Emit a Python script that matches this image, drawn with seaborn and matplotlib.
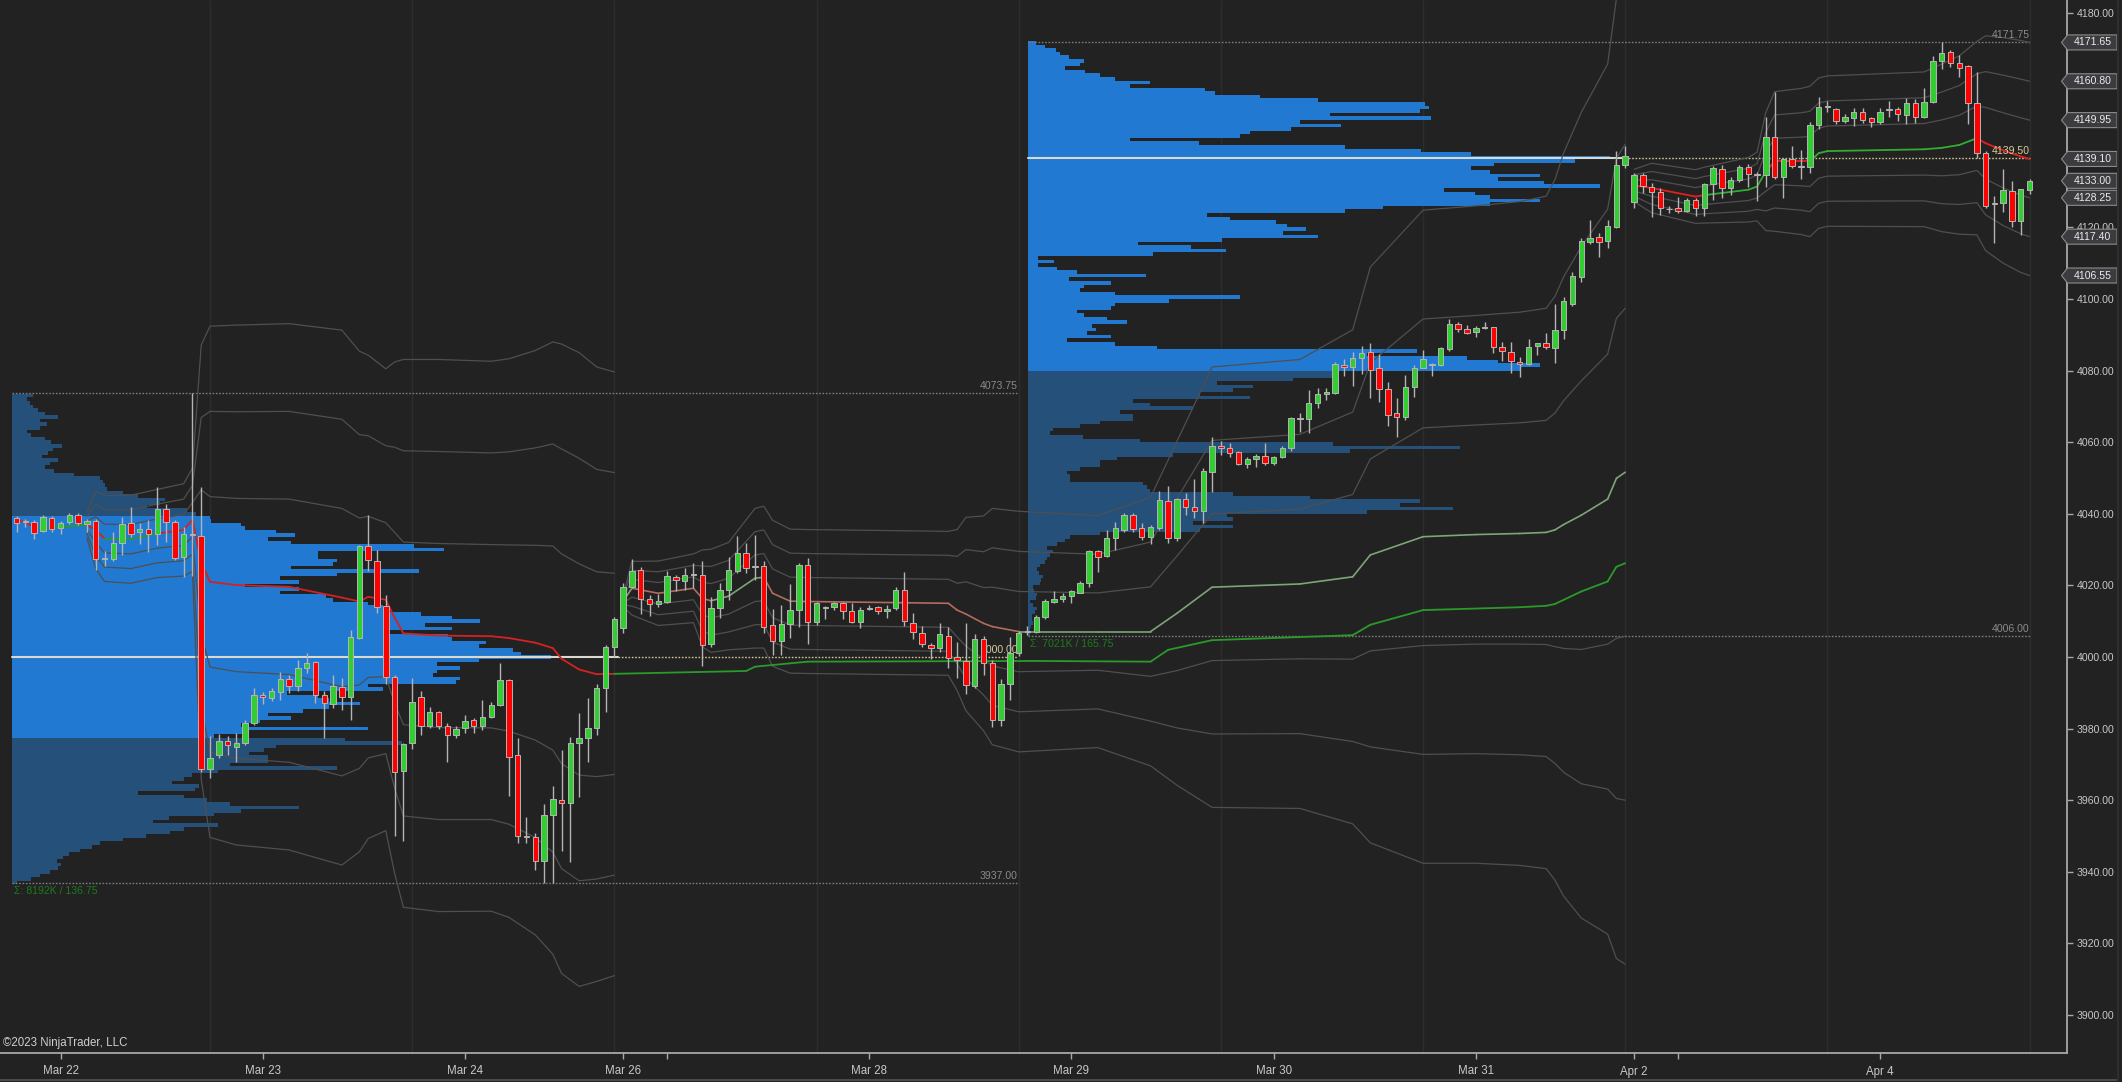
import numpy as np
import matplotlib
matplotlib.use("Agg")
import matplotlib.pyplot as plt
import seaborn as sns
from matplotlib.patches import Polygon
from matplotlib.lines import Line2D
from matplotlib.transforms import blended_transform_factory

# ---------------- candles (hourly bars, x = bar number) ----------------
opens = [
    4038.9, 4037.9, 4037.6, 4035.3, 4038.8, 4036.0, 4037.6, 4039.7, 4037.2, 4038.1,
    4027.3, 4027.5, 4031.8, 4037.4, 4034.8, 4035.8, 4034.4, 4041.3, 4037.6, 4027.9,
    4034.0, 4033.9, 3968.8, 3972.7, 3976.6, 3975.0, 3976.1, 3981.7, 3989.4, 3988.5,
    3990.2, 3993.9, 3991.9, 3996.9, 3998.5, 3989.4, 3986.8, 3991.6, 3988.8, 4005.2,
    4031.0, 4026.9, 4014.3, 3994.4, 3968.2, 3975.9, 3988.8, 3980.8, 3984.6, 3980.8,
    3978.2, 3980.1, 3982.3, 3980.8, 3983.2, 3986.6, 3993.6, 3972.7, 3950.0, 3949.7,
    3943.1, 3955.9, 3960.1, 3959.3, 3975.9, 3977.5, 3980.1, 3991.3, 4002.7, 4008.0,
    4019.5, 4024.3, 4016.3, 4014.7, 4015.5, 4022.3, 4021.2, 4022.8, 4022.9, 4003.6,
    4013.6, 4018.7, 4024.0, 4029.1, 4025.3, 4025.4, 4008.8, 4004.5, 4009.2, 4013.1,
    4025.7, 4009.9, 4013.9, 4013.9, 4015.0, 4012.9, 4009.9, 4013.6, 4013.9, 4012.9,
    4013.6, 4018.7, 4009.6, 4006.6, 4003.3, 4002.4, 4006.0, 4000.1, 3999.0, 3991.9,
    4004.9, 3998.4, 3982.4, 3992.4, 4001.0, 4007.2, 4007.1, 4011.3, 4015.5, 4016.1,
    4016.9, 4018.0, 4020.8, 4029.7, 4028.2, 4033.1, 4035.5, 4039.7, 4036.0, 4033.6,
    4036.0, 4043.6, 4033.1, 4044.2, 4042.0, 4040.9, 4051.8, 4058.9, 4058.3, 4057.2,
    4053.9, 4055.3, 4056.1, 4054.3, 4056.0, 4058.3, 4066.7, 4066.5, 4070.9, 4073.5,
    4073.6, 4081.5, 4080.9, 4083.4, 4085.3, 4080.6, 4074.9, 4068.1, 4067.1, 4075.3,
    4080.8, 4081.7, 4081.6, 4085.9, 4093.0, 4091.6, 4090.9, 4092.0, 4092.1, 4086.5,
    4085.3, 4082.5, 4081.8, 4086.9, 4087.6, 4086.2, 4091.3, 4098.6, 4106.2, 4116.0,
    4117.2, 4116.3, 4120.0, 4137.4, 4127.2, 4134.6, 4131.2, 4130.0, 4125.2, 4125.3,
    4124.7, 4127.7, 4125.3, 4132.1, 4136.2, 4130.9, 4133.2, 4136.8, 4134.9, 4134.5,
    4145.3, 4134.2, 4139.0, 4137.2, 4136.8, 4148.6, 4153.8, 4153.0, 4149.7, 4150.5,
    4152.3, 4150.5, 4149.3, 4152.9, 4153.0, 4151.4, 4154.8, 4150.7, 4155.1, 4166.6,
    4169.1, 4166.0, 4165.1, 4154.8, 4140.9, 4126.8, 4126.7, 4130.1, 4121.9, 4130.4,
]
highs = [
    4039.4, 4038.5, 4038.3, 4039.7, 4039.4, 4038.1, 4040.3, 4040.2, 4038.5, 4038.5,
    4029.5, 4035.0, 4039.2, 4041.8, 4037.4, 4038.3, 4047.6, 4042.8, 4038.3, 4036.4,
    4073.75, 4047.6, 3977.8, 3978.4, 3978.0, 3978.7, 3982.4, 3991.3, 3990.1, 3991.3,
    3995.9, 3995.0, 3999.2, 4001.1, 3998.8, 3990.6, 3995.0, 3994.1, 4007.6, 4031.3,
    4039.7, 4029.9, 4017.3, 3995.0, 3976.1, 3994.1, 3990.6, 3986.0, 3984.8, 3981.5,
    3980.6, 3983.8, 3982.9, 3988.0, 3987.3, 3998.3, 3993.8, 3977.3, 3955.4, 3950.8,
    3959.0, 3964.0, 3973.9, 3977.6, 3984.5, 3988.5, 3992.6, 4003.3, 4011.1, 4020.6,
    4027.3, 4025.0, 4017.3, 4017.6, 4024.1, 4022.9, 4024.9, 4026.3, 4026.8, 4016.7,
    4020.6, 4027.8, 4033.8, 4031.8, 4034.1, 4026.9, 4013.3, 4014.5, 4020.4, 4026.3,
    4027.6, 4015.5, 4014.3, 4015.5, 4015.5, 4015.0, 4014.1, 4014.5, 4014.3, 4014.5,
    4019.5, 4023.8, 4012.2, 4008.7, 4004.0, 4009.4, 4008.5, 4004.3, 4009.4, 4006.4,
    4005.9, 3999.2, 3993.8, 4005.7, 4007.4, 4008.7, 4011.7, 4016.1, 4018.3, 4018.0,
    4018.7, 4021.1, 4029.9, 4029.9, 4035.5, 4037.8, 4040.3, 4040.1, 4037.5, 4036.9,
    4046.5, 4047.8, 4044.3, 4045.9, 4049.6, 4052.7, 4061.4, 4060.4, 4059.7, 4057.4,
    4056.0, 4056.7, 4059.9, 4056.1, 4058.8, 4067.0, 4068.1, 4074.6, 4075.0, 4075.0,
    4082.5, 4083.1, 4085.3, 4086.9, 4087.8, 4084.6, 4076.9, 4072.3, 4078.8, 4081.6,
    4085.7, 4082.2, 4086.7, 4094.3, 4093.7, 4092.7, 4092.5, 4093.7, 4092.3, 4088.1,
    4088.1, 4083.9, 4088.7, 4087.8, 4090.4, 4098.6, 4100.5, 4107.6, 4116.9, 4122.1,
    4118.3, 4122.1, 4141.4, 4142.7, 4135.1, 4135.1, 4132.3, 4130.9, 4126.0, 4128.4,
    4128.1, 4128.1, 4132.5, 4137.2, 4137.4, 4134.2, 4137.4, 4137.7, 4135.6, 4150.9,
    4157.9, 4139.3, 4142.7, 4141.6, 4149.5, 4156.5, 4155.4, 4153.3, 4151.7, 4153.3,
    4153.3, 4150.9, 4153.3, 4155.4, 4153.5, 4156.0, 4155.8, 4158.8, 4167.9, 4171.75,
    4169.5, 4168.2, 4165.4, 4163.5, 4141.2, 4128.8, 4136.2, 4133.0, 4130.8, 4133.6,
]
lows = [
    4035.0, 4036.4, 4032.9, 4034.8, 4035.0, 4034.4, 4037.2, 4036.9, 4035.0, 4024.3,
    4025.5, 4026.7, 4028.5, 4033.6, 4031.6, 4029.2, 4031.3, 4032.2, 4027.1, 4022.3,
    4022.5, 3968.0, 3966.1, 3971.7, 3972.7, 3970.8, 3975.5, 3981.0, 3986.9, 3987.6,
    3988.0, 3989.9, 3990.4, 3995.5, 3987.1, 3977.3, 3985.7, 3985.2, 3982.4, 4005.0,
    4024.1, 4012.2, 3992.5, 3950.0, 3948.5, 3974.2, 3978.2, 3980.1, 3979.8, 3970.8,
    3977.3, 3978.7, 3978.9, 3979.6, 3982.9, 3986.2, 3961.2, 3948.0, 3948.0, 3940.4,
    3937.0, 3937.0, 3945.9, 3942.8, 3961.0, 3970.8, 3978.2, 3984.7, 4000.1, 4006.6,
    4019.2, 4011.9, 4011.4, 4013.9, 4015.0, 4018.5, 4018.7, 4019.2, 3997.5, 4002.9,
    4010.8, 4015.9, 4023.4, 4023.6, 4021.5, 4006.8, 4000.6, 4000.6, 4005.2, 4008.5,
    4003.6, 4008.9, 4010.5, 4013.1, 4010.5, 4009.6, 4008.0, 4013.1, 4011.9, 4010.8,
    4013.1, 4008.7, 4004.9, 4002.7, 3999.4, 4001.5, 3996.8, 3994.0, 3989.8, 3991.3,
    3994.9, 3980.5, 3980.8, 3988.0, 4000.4, 4006.1, 4006.6, 4010.5, 4015.0, 4015.5,
    4015.0, 4017.8, 4019.6, 4023.8, 4028.0, 4029.9, 4035.0, 4035.0, 4032.7, 4031.6,
    4035.5, 4031.9, 4032.5, 4039.7, 4038.7, 4037.5, 4046.2, 4056.4, 4055.8, 4053.6,
    4052.7, 4053.2, 4053.6, 4053.6, 4055.5, 4057.4, 4062.9, 4062.7, 4069.5, 4071.8,
    4073.5, 4078.5, 4075.7, 4079.0, 4072.3, 4071.3, 4064.5, 4061.4, 4066.2, 4072.7,
    4080.6, 4078.5, 4081.3, 4085.6, 4090.9, 4090.1, 4089.5, 4091.5, 4085.0, 4082.8,
    4079.4, 4078.3, 4081.5, 4084.4, 4085.9, 4082.0, 4088.7, 4097.9, 4104.8, 4115.4,
    4111.8, 4114.2, 4119.7, 4136.5, 4125.5, 4129.5, 4123.0, 4123.5, 4123.9, 4123.9,
    4124.4, 4123.2, 4123.2, 4127.7, 4128.1, 4129.0, 4132.8, 4131.4, 4127.5, 4131.4,
    4133.4, 4128.1, 4136.5, 4133.4, 4135.1, 4147.4, 4152.3, 4148.9, 4149.1, 4148.3,
    4149.1, 4147.9, 4148.9, 4150.9, 4149.8, 4148.9, 4149.1, 4150.5, 4154.8, 4164.2,
    4164.9, 4161.9, 4148.9, 4139.3, 4125.3, 4115.5, 4124.4, 4120.2, 4117.8, 4129.2,
]
closes = [
    4037.4, 4037.7, 4034.6, 4039.2, 4035.7, 4037.4, 4039.7, 4037.4, 4037.9, 4027.3,
    4027.4, 4031.8, 4037.2, 4034.4, 4035.8, 4034.4, 4041.4, 4037.8, 4027.6, 4034.4,
    4034.3, 3968.7, 3971.7, 3976.6, 3975.5, 3976.1, 3981.7, 3989.4, 3988.8, 3990.4,
    3993.9, 3991.9, 3996.9, 3998.3, 3989.4, 3987.1, 3991.9, 3988.8, 4005.5, 4031.0,
    4027.1, 4014.1, 3994.4, 3968.0, 3975.6, 3987.4, 3980.8, 3984.6, 3980.8, 3978.2,
    3979.9, 3982.0, 3980.8, 3983.2, 3986.6, 3993.6, 3972.2, 3950.0, 3949.8, 3943.1,
    3955.9, 3960.3, 3959.3, 3975.9, 3977.5, 3980.1, 3991.3, 4002.7, 4010.6, 4019.5,
    4024.0, 4016.3, 4014.8, 4015.6, 4022.7, 4021.5, 4022.9, 4023.0, 4003.3, 4013.6,
    4018.7, 4024.3, 4029.1, 4024.9, 4025.1, 4008.5, 4004.5, 4009.1, 4013.1, 4025.7,
    4009.9, 4015.0, 4013.7, 4015.0, 4012.9, 4009.9, 4013.1, 4013.4, 4012.9, 4013.5,
    4018.7, 4010.0, 4007.0, 4003.6, 4002.4, 4006.4, 3999.6, 3999.2, 3992.2, 4004.9,
    3998.2, 3982.4, 3992.4, 4001.2, 4006.6, 4007.0, 4011.3, 4015.6, 4016.1, 4017.0,
    4018.3, 4020.8, 4029.7, 4028.0, 4033.1, 4036.0, 4039.7, 4035.7, 4033.4, 4036.2,
    4043.9, 4033.1, 4044.2, 4041.8, 4040.9, 4052.0, 4058.9, 4058.3, 4057.1, 4053.9,
    4055.3, 4056.1, 4054.3, 4056.0, 4058.3, 4066.7, 4066.6, 4071.0, 4073.5, 4073.9,
    4081.8, 4080.9, 4083.4, 4085.0, 4080.2, 4074.8, 4067.6, 4067.1, 4075.3, 4080.8,
    4083.1, 4081.5, 4086.2, 4093.0, 4091.5, 4090.4, 4091.8, 4092.1, 4086.7, 4085.6,
    4082.8, 4081.8, 4086.5, 4087.6, 4086.5, 4091.3, 4099.3, 4106.4, 4116.2, 4117.0,
    4116.0, 4120.4, 4137.4, 4139.8, 4134.6, 4131.6, 4130.0, 4125.3, 4125.0, 4124.7,
    4127.7, 4125.3, 4132.1, 4136.5, 4130.9, 4133.2, 4136.8, 4134.9, 4134.5, 4145.3,
    4134.2, 4139.0, 4137.1, 4136.8, 4148.6, 4153.7, 4153.6, 4149.7, 4150.7, 4152.3,
    4150.0, 4149.5, 4152.3, 4152.7, 4151.7, 4154.8, 4150.7, 4155.1, 4166.6, 4168.6,
    4166.0, 4164.4, 4154.7, 4140.9, 4126.1, 4126.6, 4130.4, 4121.9, 4130.6, 4133.0,
]

# ---------------- time axis ----------------
tick_bars = [5, 28, 51, 69, 74, 97, 120, 143, 166, 184, 189, 212]
tick_labels = ["Mar 22", "Mar 23", "Mar 24", "Mar 26", "", "Mar 28",
               "Mar 29", "Mar 30", "Mar 31", "Apr 2", "", "Apr 4"]
grid_bars = [22, 45, 68, 91, 114, 137, 160, 183, 206, 229]

# ---------------- volume profiles ----------------
prof1_levels = list(range(3937, 4074))
prof1_vol = [
    5, 19, 28, 38, 46, 49, 45, 51, 57, 68,
    80, 88, 111, 134, 158, 172, 206, 141, 157, 202,
    229, 287, 218, 195, 172, 126, 183, 187, 160, 172,
    180, 206, 325, 218, 256, 256, 237, 252, 264, 390,
    333, 202, 233, 356, 229, 248, 279, 256, 291, 317,
    348, 317, 306, 275, 371, 356, 444, 448, 421, 425,
    448, 425, 467, 539, 509, 501, 467, 474, 440, 436,
    371, 440, 413, 468, 440, 409, 375, 371, 356, 321,
    314, 268, 287, 233, 287, 268, 325, 407, 279, 321,
    325, 306, 306, 432, 402, 279, 256, 283, 264, 233,
    229, 199, 198, 184, 175, 135, 148, 153, 126, 111,
    95, 93, 91, 88, 62, 42, 33, 38, 46, 30,
    36, 41, 50, 39, 33, 19, 15, 28, 35, 28,
    46, 33, 26, 21, 18, 15, 21,
]
prof1_va = (3977.5, 4039.5)
prof1_poc, prof1_hi, prof1_lo = 4000.00, 4073.75, 3937.00
prof1_sum = "Σ: 8192K / 136.75"

prof2_levels = [v + 0.5 for v in range(4006, 4172)]
prof2_vol = [
    2, 2, 3, 5, 4, 4, 7, 9, 5, 2,
    8, 9, 6, 5, 12, 13, 15, 11, 9, 12,
    17, 19, 22, 25, 19, 29, 37, 42, 72, 172,
    205, 165, 205, 199, 339, 425, 372, 392, 282, 205,
    122, 119, 115, 42, 42, 39, 52, 72, 72, 89,
    145, 322, 432, 305, 112, 55, 22, 25, 52, 72,
    105, 105, 92, 165, 122, 105, 222, 172, 205, 225,
    189, 265, 305, 305, 492, 512, 470, 439, 339, 389,
    129, 87, 39, 83, 59, 68, 64, 99, 79, 56,
    49, 83, 87, 141, 212, 87, 52, 56, 83, 41,
    118, 49, 29, 10, 26, 10, 125, 198, 163, 110,
    194, 290, 255, 278, 259, 248, 202, 179, 317, 355,
    462, 512, 462, 447, 416, 572, 516, 470, 512, 462,
    443, 466, 547, 582, 443, 393, 317, 171, 102, 212,
    222, 263, 313, 272, 403, 302, 392, 401, 397, 290,
    232, 187, 177, 102, 122, 87, 72, 57, 37, 52,
    56, 41, 32, 28, 17, 8,
]
prof2_va = (4080.0, 4172.0)
prof2_poc, prof2_hi, prof2_lo = 4139.50, 4171.75, 4006.00
prof2_sum = "Σ: 7021K / 165.75"

# ---------------- VWAP lines (knots: bar, price, sigma) ----------------
vwapA_x = [0, 2, 3, 8, 9, 10, 13, 16, 19, 20, 21, 22, 25, 31, 37, 39, 40, 42, 43, 44,
           48, 54, 56, 59, 61, 62, 64, 66, 68, 83, 84, 90, 116, 129, 131, 136, 152, 154,
           160, 171, 174, 175, 178, 181, 182, 183]
vwapA_y = [4038.5, 4036.4, 4035.9, 4036.9, 4035.5, 4033.1, 4032.9, 4034.5, 4035.5, 4038.3,
           4026.5, 4021.0, 4020.1, 4019.6, 4016.6, 4015.5, 4016.8, 4016.0, 4011.0, 4006.6,
           4006.0, 4005.8, 4005.3, 4004.0, 4002.5, 3999.5, 3996.5, 3995.2, 3995.3, 3996.1,
           3997.3, 3998.7, 3998.9, 3998.7, 4002.0, 4004.7, 4006.1, 4009.0, 4013.1, 4013.9,
           4014.3, 4014.8, 4018.3, 4021.1, 4025.2, 4026.2]
vwapA_sd = [0.3, 0.6, 0.8, 1.2, 3.6, 4.0, 4.1, 4.1, 4.3, 4.8,
            20.2, 23.8, 24.2, 24.5, 24.9, 23.3, 22.5, 21.5, 23.8, 25.5,
            25.7, 25.6, 26.0, 27.2, 28.5, 29.3, 29.5, 28.6, 28.1]
vwapA_col = "rggrrggrrr" + "r" * 18 + "g" * 17

vwapB_x = [69, 70, 73, 77, 78, 79, 81, 84, 85, 86, 88, 90, 106, 107, 108, 110, 111, 114,
           123, 129, 132, 136, 146, 152, 154, 160, 166, 171, 174, 175, 176, 178, 181, 182, 183]
vwapB_y = [4015.6, 4019.2, 4017.8, 4019.2, 4016.4, 4015.7, 4017.0, 4022.0, 4022.3, 4017.8,
           4015.6, 4015.5, 4015.0, 4013.1, 4012.0, 4009.4, 4008.5, 4007.1, 4007.1, 4007.1,
           4012.2, 4019.5, 4020.4, 4022.4, 4028.5, 4033.6, 4034.2, 4034.5, 4034.8, 4035.5,
           4037.0, 4039.6, 4044.1, 4049.9, 4051.6]
vwapB_sd = [0.5, 2.5, 3.0, 3.2, 4.5, 4.8, 5.0, 6.5, 6.6, 6.8,
            6.7, 6.7, 6.7, 7.5, 9.0, 10.0, 11.0, 11.2, 10.8, 12.5,
            16.0, 20.5, 20.9, 23.0, 26.8, 30.4, 30.6, 30.9, 31.3, 32.6,
            34.6, 37.5, 40.5, 44.7, 45.8]
vwapB_col = "grrrrgggrrrrrrrrr" + "g" * 17

vwapC_x = [184, 186, 191, 192, 197, 198, 199, 200, 203, 204, 205, 206, 217, 219, 221,
           223, 224, 226, 228, 229]
vwapC_y = [4131.7, 4131.0, 4128.6, 4129.0, 4130.5, 4131.4, 4135.6, 4138.4, 4138.4, 4138.4,
           4140.7, 4141.3, 4141.8, 4142.2, 4143.0, 4144.9, 4143.5, 4141.5, 4139.8, 4139.1]
vwapC_sd = [1.5, 2.3, 2.5, 2.6, 3.0, 3.2, 5.5, 6.5, 6.8, 7.0,
            7.0, 7.0, 7.2, 7.8, 8.3, 9.0, 10.0, 10.5, 10.8, 10.85]
vwapC_col = "rrrgggrrrggggggrrrr"

# ---------------- style ----------------
BG = "#222222"
UP, DN = "#32CD32", "#FF0000"
OUTLINE = "#b4b4b4"
VA_BLUE, OUT_BLUE = "#2179D2", "#245079"
BAND = "#4f4f4f"
AXIS_TXT = "#c8c8c8"
NARROW = ["Liberation Sans Narrow", "Liberation Sans", "DejaVu Sans"]

sns.set_theme(style="dark", rc={"axes.facecolor": BG, "figure.facecolor": BG})
plt.rcParams["font.family"] = ["Liberation Sans", "DejaVu Sans"]

fig = plt.figure(figsize=(21.22, 10.82), dpi=100)
ax = fig.add_axes([0, 29 / 1082, 2067 / 2122, 1053 / 1082])
ax.set_facecolor(BG)
ax.set_xlim(-1.89, 233.26)
ax.set_ylim(3889.4, 4183.5)

for g in grid_bars:
    ax.axvline(g, color="#2d2d2d", lw=1.0, zorder=0.5)

# ---- volume profiles ----
def profile(levels, vol, left, maxw, va, zo=1):
    lv = np.array(levels, dtype=float)
    v = np.array(vol, dtype=float)
    w = v / v.max() * maxw
    inva = (lv >= va[0]) & (lv <= va[1])
    cols = np.where(inva, VA_BLUE, OUT_BLUE)
    ax.barh(lv, w, left=left, height=1.0, color=cols, linewidth=0, zorder=zo)

profile(prof1_levels, prof1_vol, -0.52, 61.3, prof1_va)
profile(prof2_levels, prof2_vol, 115.06, 66.2, prof2_va)

def prof_lines(left, solid_end, end, hi, lo, poc, total):
    dots = (0, (1.2, 1.2))
    for y in (hi, lo):
        ax.plot([left, end], [y, y], color="#7c7c7c", lw=1.0, ls=dots, zorder=2)
        ax.text(end, y + 0.5, f"{y:.2f}", color="#8a8a8a", fontsize=7.6,
                ha="right", va="bottom", zorder=3.5)
    ax.plot([left, solid_end], [poc, poc], color="#d9d9cf", lw=1.5, zorder=2.2)
    ax.plot([solid_end, end], [poc, poc], color="#cdc394", lw=1.0, ls=dots, zorder=2.2)
    ax.text(end, poc + 0.5, f"{poc:.2f}", color="#d6cc9a", fontsize=7.6,
            ha="right", va="bottom", zorder=3.5)
    ax.text(left + 0.25, lo - 0.9, total, color="#1c7a1c", fontsize=7.6,
            ha="left", va="top", zorder=3.5)

prof_lines(-0.52, 68.4, 113.9, prof1_hi, prof1_lo, prof1_poc, prof1_sum)
prof_lines(115.06, 183.0, 229.0, prof2_hi, prof2_lo, prof2_poc, prof2_sum)

# ---- VWAP bands ----
def bands(x, y, sd, start=0):
    n = len(sd)
    x = np.array(x[start:n], dtype=float)
    c = np.array(y[start:n], dtype=float)
    s = np.array(sd[start:n], dtype=float)
    for k in (-3, -2, -1, 1, 2, 3):
        sns.lineplot(x=x, y=c + k * s, ax=ax, color=BAND, lw=0.9,
                     estimator=None, legend=False, zorder=2.5)

bands(vwapA_x, vwapA_y, vwapA_sd, start=3)
bands(vwapB_x, vwapB_y, vwapB_sd)
bands(vwapC_x, vwapC_y, vwapC_sd)

def vwap(x, y, col, red, green, lw):
    for k in range(len(x) - 1):
        ax.plot(x[k:k + 2], y[k:k + 2], color=red if col[k] == "r" else green,
                lw=lw, zorder=3, solid_capstyle="round")

vwap(vwapA_x, vwapA_y, vwapA_col, "#d42222", "#2a9a2a", 1.3)
vwap(vwapB_x, vwapB_y, vwapB_col, "#b26b5f", "#7ea479", 1.2)
vwap(vwapC_x, vwapC_y, vwapC_col, "#e21f1f", "#32ac32", 1.3)

# ---- candles ----
o = np.array(opens); h = np.array(highs); l = np.array(lows); c = np.array(closes)
idx = np.arange(len(o))
up = c >= o
ax.vlines(idx, l, h, color=OUTLINE, lw=1.0, zorder=4)
bot = np.minimum(o, c)
hgt = np.maximum(np.abs(c - o), 0.25)
ax.bar(idx[up], hgt[up], bottom=bot[up], width=0.62, color=UP,
       edgecolor=OUTLINE, linewidth=0.7, zorder=5)
ax.bar(idx[~up], hgt[~up], bottom=bot[~up], width=0.62, color=DN,
       edgecolor=OUTLINE, linewidth=0.7, zorder=5)

# ---- axes ----
for s in ("top", "left"):
    ax.spines[s].set_visible(False)
for s in ("right", "bottom"):
    ax.spines[s].set_visible(True)
    ax.spines[s].set_color("#a8a8a8")
    ax.spines[s].set_linewidth(1.3)
ax.grid(False)

yt = np.arange(3900, 4181, 20)
ax.yaxis.tick_right()
ax.set_yticks(yt)
ax.set_yticklabels([f"{v:.2f}" for v in yt])
ax.tick_params(axis="y", which="both", right=True, left=False, labelright=True,
               labelleft=False, length=4, width=1, color="#a8a8a8",
               labelcolor=AXIS_TXT, labelsize=7.6, pad=3, direction="out")
ax.set_xticks(tick_bars)
ax.set_xticklabels(tick_labels)
ax.tick_params(axis="x", bottom=True, length=4, width=1, color="#a8a8a8",
               labelcolor=AXIS_TXT, labelsize=8.3, pad=5, direction="out")
for t in ax.get_xticklabels():
    t.set_family(NARROW)

# ---- price flags on the right edge ----
tr = blended_transform_factory(ax.transAxes, ax.transData)
W = 2067.0
hh = 7.5 / 3.58

def flag(y, txt):
    x0, xs, x1 = 2061.5 / W, 2067.5 / W, 2117.0 / W
    ax.add_patch(Polygon([(x0, y), (xs, y + hh), (x1, y + hh), (x1, y - hh), (xs, y - hh)],
                         closed=True, transform=tr, clip_on=False, fc="#3b3b40",
                         ec="#8c8c8c", lw=0.8, zorder=10))
    ax.text(2092.5 / W, y, txt, transform=tr, ha="center", va="center",
            color="#ececec", fontsize=7.6, zorder=11, clip_on=False)

c_last, s_last = vwapC_y[-1], vwapC_sd[-1]
for k in (3, 2, 1, 0, -1, -2, -3):
    v = c_last + k * s_last
    flag(v, f"{v:.2f}")
flag(closes[-1], f"{closes[-1]:.2f}")

# ---- frame details ----
fig.add_artist(Line2D([0, 2117 / 2122], [2 / 1082, 2 / 1082], transform=fig.transFigure,
                      color="#4a4a4a", lw=1.5))
fig.add_artist(Line2D([2118 / 2122, 2118 / 2122], [0, 1], transform=fig.transFigure,
                      color="#2e2e2e", lw=1.5))
fig.text(3 / 2122, 1 - 1043 / 1082, "©2023 NinjaTrader, LLC", ha="left", va="center",
         color="#d0d0d0", fontsize=8.3, family=NARROW)

fig.savefig("out.png", dpi=100, facecolor=BG)
